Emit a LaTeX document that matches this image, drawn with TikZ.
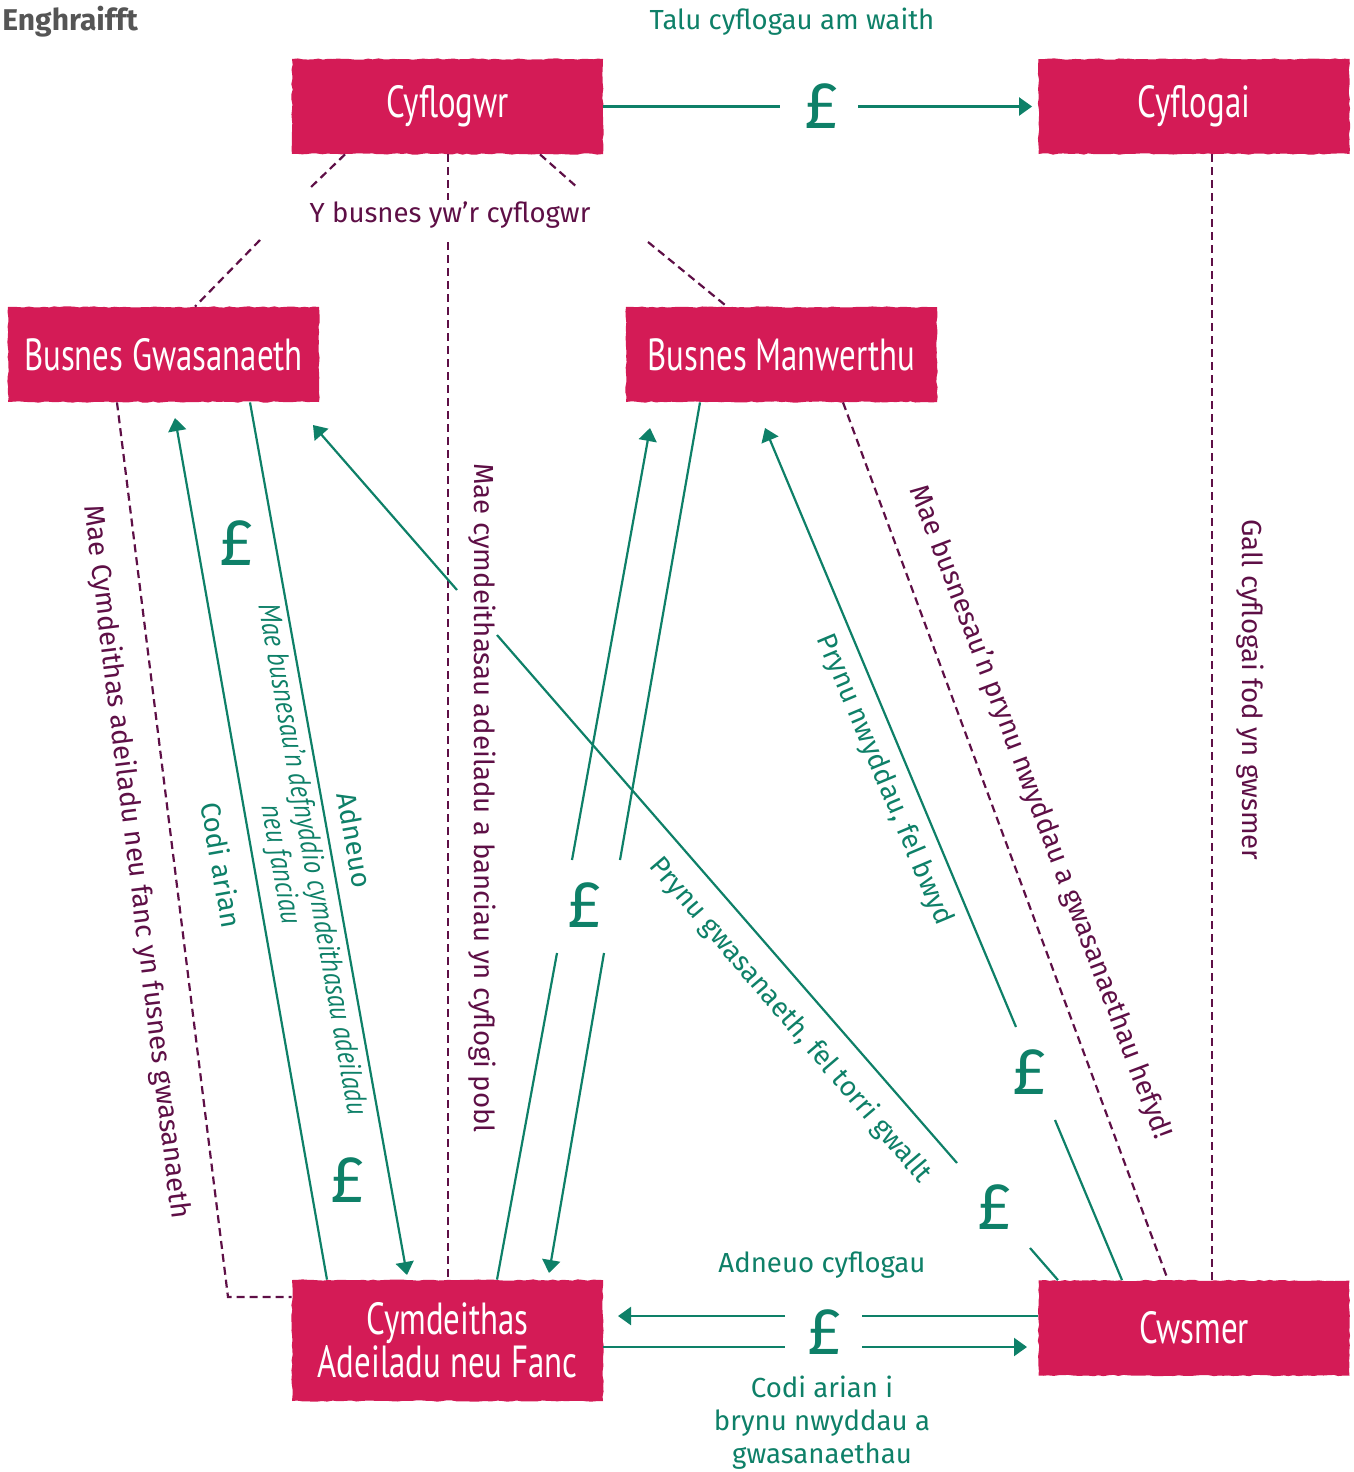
\documentclass[tikz,border=0pt]{standalone}
\usepackage{fontspec}
\setmainfont{Fira Sans}
\newfontfamily\boxfont[FakeStretch=0.73]{PT Sans}
\newfontfamily\handfont[FakeStretch=0.85]{PT Sans}
\usetikzlibrary{arrows.meta,decorations.pathmorphing}
\definecolor{crim}{RGB}{212,27,86}
\definecolor{grn}{RGB}{14,128,104}
\definecolor{plum}{RGB}{94,15,70}
\definecolor{ttl}{RGB}{85,85,85}
\begin{document}
\begin{tikzpicture}[x=0.5pt,y=-0.5pt,
 box/.style={fill=crim, text=white, minimum width=155.5pt, minimum height=47.5pt, inner sep=0pt,
   decorate, decoration={random steps, segment length=2.5pt, amplitude=0.35pt},
   font=\boxfont\fontsize{22.5}{20}\selectfont, align=center},
 gline/.style={draw=grn, line width=1.1pt},
 garr/.style={gline, -{Triangle[length=6.5pt,width=9pt]}},
 dsh/.style={draw=plum, line width=1.1pt, dash pattern=on 4pt off 2.5pt},
 glab/.style={text=grn, font=\fontsize{13.8}{16.5}\selectfont, inner sep=0pt},
 plab/.style={text=plum, font=\fontsize{13.8}{16}\selectfont, inner sep=0pt},
 pnd/.style={text=grn, font=\fontsize{33}{33}\selectfont, inner sep=0pt}]

\pgfmathsetseed{7}
\useasboundingbox (0,0) rectangle (1354,1472);

% boxes
\node[box] (cyflogwr) at (447.5,106.5) {Cyflogwr};
\node[box] (cyflogai) at (1194,106.5) {Cyflogai};
\node[box] (bg) at (163.5,354.5) {Busnes Gwasanaeth};
\node[box] (bm) at (781.5,354.5) {Busnes Manwerthu};
\node[box, minimum height=60.5pt] (cym) at (447.5,1340.5) {Cymdeithas\\Adeiladu neu Fanc};
\node[box] (cws) at (1194,1328) {Cwsmer};

% title
\node[anchor=west, text=ttl, font=\bfseries\fontsize{15}{18}\selectfont, inner sep=0pt] (title) at (2,22) {Enghraifft};

% pounds
\node[pnd] (p1) at (822,106) {£};
\node[pnd] (p2) at (237,543) {£};
\node[pnd] (p3) at (348,1180) {£};
\node[pnd] (p4) at (585,905) {£};
\node[pnd] (p5) at (1030,1072) {£};
\node[pnd] (p6) at (995,1207) {£};
\node[pnd] (p7) at (825,1332) {£};

% labels
\node[glab] (talu) at (792,22) {Talu cyflogau am waith};
\node[plab] (ybus) at (450,215) {Y busnes yw’r cyflogwr};
\node[plab, rotate=-83] (l1) at (136,862) {Mae Cymdeithas adeiladu neu fanc yn fusnes gwasanaeth};
\node[glab, rotate=-80] (codi) at (222,865) {Codi arian};
\node[glab, rotate=-80] (adneuo) at (355,840) {Adneuo};
\node[glab, rotate=-80, font=\handfont\itshape\fontsize{15}{16}\selectfont, align=center] (defn) at (295,862) {Mae busnesau’n defnyddio cymdeithasau adeiladu\\neu fanciau};
\node[plab, rotate=-90] (cyflogi) at (482,798) {Mae cymdeithasau adeiladu a banciau yn cyflogi pobl};
\node[glab, rotate=-67.3] (nwydd) at (884,780) {Prynu nwyddau, fel bwyd};
\node[plab, rotate=-69.3] (hefyd) at (1040,812) {Mae busnesau’n prynu nwyddau a gwasanaethau hefyd!};
\node[plab, rotate=-90] (gall) at (1250,690) {Gall cyflogai fod yn gwsmer};
\node[glab, rotate=-49.5] (torri) at (790,1020) {Prynu gwasanaeth, fel torri gwallt};
\node[glab] (adcyf) at (822,1265) {Adneuo cyflogau};
\node[glab, align=center] (codi2) at (822,1423) {Codi arian i\\brynu nwyddau a\\gwasanaethau};

% top wage flow
\draw[gline] (cyflogwr.east) -- (780,106.5);
\draw[garr] (858,106.5) -- ([xshift=-3pt]cyflogai.west);

% dashed links from employer
\draw[dsh] (cyflogwr.south -| 345,0) -- (310,188);
\draw[dsh] (260,240) -- (bg.north -| 195,0);
\draw[dsh] (cyflogwr.south -| 540,0) -- (578,188);
\draw[dsh] (648,242) -- (bm.north -| 727,0);
\draw[dsh] (cyflogwr.south -| 448,0) -- (448,200);
\draw[dsh] (448,242) -- (cym.north -| 448,0);
\draw[dsh] (cyflogai.south -| 1212,0) -- (cws.north -| 1212,0);
\draw[dsh] (bg.south -| 117,0) -- (228,1297) -- (cym.west |- 0,1297);
\draw[dsh] (bm.south -| 843,0) -- (cws.north -| 1168,0);

% service business <-> bank
\draw[garr] (cym.north -| 327,0) -- (175,418);
\draw[garr] (bg.south -| 250,0) -- (407,1275);

% customer -> service business
\draw[gline] (cws.north -| 1058,0) -- (1030,1248);
\draw[gline] (957,1163) -- (497,635);
\draw[garr] (457,590) -- (313,425);

% retail <-> bank
\draw[gline] (cym.north -| 497,0) -- (557,953);
\draw[garr] (572,860) -- (650,428);
\draw[gline] (bm.south -| 700,0) -- (620,860);
\draw[garr] (604,953) -- (549,1273);

% customer -> retail
\draw[gline] (cws.north -| 1122,0) -- (1055,1120);
\draw[garr] (1016,1027) -- (765,428);

% customer <-> bank
\draw[gline] (cws.west |- 0,1316) -- (862,1316);
\draw[garr] (785,1316) -- (618,1316);
\draw[gline] (cym.east |- 0,1347) -- (785,1347);
\draw[garr] (862,1347) -- (1027,1347);
\end{tikzpicture}
\end{document}
